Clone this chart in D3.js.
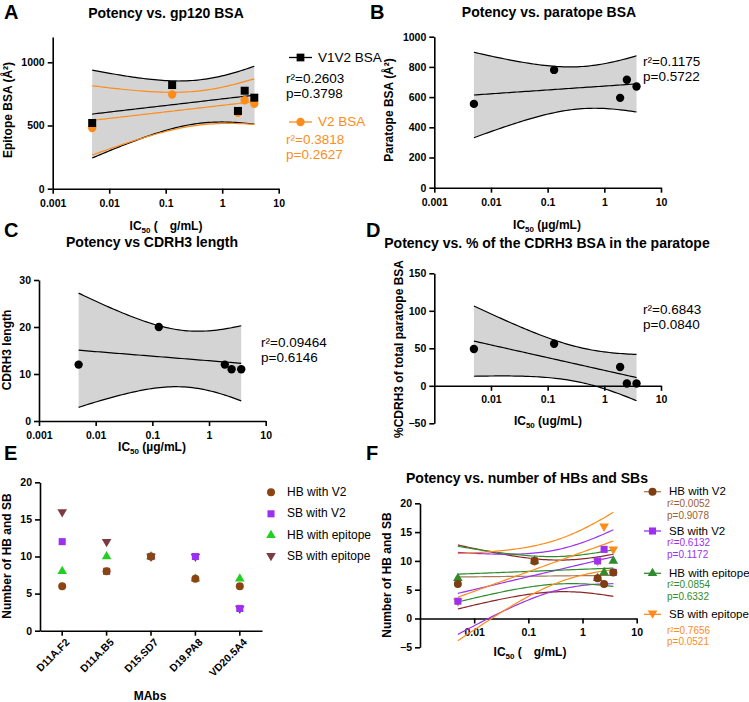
<!DOCTYPE html>
<html>
<head>
<meta charset="utf-8">
<script src="https://cdn.jsdelivr.net/npm/d3@7"></script>
<style>
  body { margin: 0; background: #fff; }
  text { font-family: "Liberation Sans", Arial, sans-serif; }
</style>
</head>
<body>
<svg id="fig" width="749" height="702"></svg>
<script>
// antibodies, in the order used by panel E
const mabs = ['D11A.F2', 'D11A.B5', 'D15.SD7', 'D19.PA8', 'VD20.5A4'];
const ic50 = [2.5, 3.7, 0.13, 1.9, 0.005];

const v1v2Bsa = [775, 720, 820, 615, 520];
const v2Bsa = [700, 672, 745, 600, 480];
const paratopeBsa = [715, 670, 780, 595, 555];
const cdrh3Length = [11, 11, 20, 12, 12];
const cdrh3Pct = [3, 3, 56, 25, 49];

const hbV2 = [6, 8, 10, 7, 6];
const sbV2 = [12, 8, 10, 10, 3];
const hbEpi = [8, 10, 10, 7, 7];
const sbEpi = [16, 12, 10, 10, 3];

const logTicks = [0.001, 0.01, 0.1, 1, 10];

const GRAY = '#d4d4d4';
const ORANGE = '#ff8c1a';
const BROWN = '#8b4513';
const PURPLE = '#9b30f0';

const svg = d3.select('#fig');

// least squares on log10(x) with 95% confidence band (n = 5, t = 3.182)
const fitLog = (xs, ys) => {
  const lx = xs.map(Math.log10);
  const n = lx.length;
  const mx = d3.mean(lx);
  const my = d3.mean(ys);
  const sxx = d3.sum(lx, (v) => (v - mx) ** 2);
  const sxy = d3.sum(lx, (v, i) => (v - mx) * (ys[i] - my));
  const slope = sxy / sxx;
  const icept = my - slope * mx;
  const sse = d3.sum(lx, (v, i) => (ys[i] - (icept + slope * v)) ** 2);
  const s = Math.sqrt(sse / (n - 2));
  const t = 3.182446;
  const lo = d3.min(lx);
  const hi = d3.max(lx);
  const pts = d3.range(0, 61).map((k) => lo + ((hi - lo) * k) / 60);
  return pts.map((u) => {
    const yhat = icept + slope * u;
    const h = t * s * Math.sqrt(1 / n + (u - mx) ** 2 / sxx);
    return { x: 10 ** u, y: yhat, lo: yhat - h, hi: yhat + h };
  });
};

const label = (x, y, txt, size, opts = {}) => svg.append('text')
  .attr('x', x).attr('y', y)
  .attr('font-size', size)
  .attr('font-weight', opts.bold ? 'bold' : 'normal')
  .attr('text-anchor', opts.anchor || 'start')
  .attr('dominant-baseline', 'middle')
  .attr('fill', opts.color || '#000')
  .text(txt);

// y is the text baseline here
const icLabel = (x, y, unit) => {
  const t = svg.append('text').attr('x', x).attr('y', y)
    .attr('text-anchor', 'middle').attr('font-size', 12).attr('font-weight', 'bold');
  t.append('tspan').text('IC');
  t.append('tspan').attr('font-size', 8).attr('dy', 3).text('50');
  t.append('tspan').attr('dy', -3).text(` (${unit})`);
};

const yLabel = (x, y, txt, size) => svg.append('text')
  .attr('transform', `translate(${x},${y}) rotate(-90)`)
  .attr('text-anchor', 'middle').attr('dominant-baseline', 'middle')
  .attr('font-size', size).attr('font-weight', 'bold').text(txt);

const styleAxis = (g) => {
  g.selectAll('path').attr('stroke-width', 1.6);
  g.selectAll('line').attr('stroke-width', 1.6);
  g.selectAll('text').attr('font-size', 10.5).attr('font-weight', 'bold')
    .attr('font-family', '"Liberation Sans", Arial, sans-serif');
};

const marker = (g, shape, x, y, color, size) => {
  const sym = { circle: d3.symbolCircle, square: d3.symbolSquare, triangle: d3.symbolTriangle, down: d3.symbolTriangle }[shape];
  g.append('path')
    .attr('d', d3.symbol().type(sym).size(size)())
    .attr('transform', `translate(${x},${y})${shape === 'down' ? ' rotate(180)' : ''}`)
    .attr('fill', color);
};

// a log-x scatter panel with regression lines
const logPanel = (p) => {
  const x = d3.scaleLog().domain([0.001, 10]).range(p.xr);
  const y = d3.scaleLinear().domain(p.yd).range(p.yr);
  const g = svg.append('g');
  const fits = p.series.map((s) => fitLog(ic50, s.values));

  if (p.shade) {
    fits.forEach((f) => {
      g.append('path').datum(f)
        .attr('d', d3.area().x((d) => x(d.x)).y0((d) => y(d.lo)).y1((d) => y(d.hi)))
        .attr('fill', GRAY);
    });
  }

  const xAxisY = p.xAxisAt0 ? y(0) : p.yr[0];
  const ax = g.append('g').attr('transform', `translate(0,${xAxisY})`)
    .call(d3.axisBottom(x).tickValues(p.xTicks).tickFormat((d) => `${d}`).tickSize(5).tickSizeOuter(0));
  ax.selectAll('text').attr('dy', p.xAxisAt0 ? '0.9em' : '0.95em');
  styleAxis(ax);
  const ay = g.append('g').attr('transform', `translate(${p.xr[0]},0)`)
    .call(d3.axisLeft(y).tickValues(p.yTicks).tickFormat(d3.format('d')).tickSize(5).tickSizeOuter(0));
  styleAxis(ay);

  fits.forEach((f, i) => {
    const s = p.series[i];
    const line = (key) => d3.line().x((d) => x(d.x)).y((d) => y(d[key]));
    g.append('path').datum(f).attr('d', line('lo')(f)).attr('fill', 'none')
      .attr('stroke', s.band || s.color).attr('stroke-width', 1.2);
    g.append('path').datum(f).attr('d', line('hi')(f)).attr('fill', 'none')
      .attr('stroke', s.band || s.color).attr('stroke-width', 1.2);
    g.append('path').datum(f).attr('d', line('y')(f)).attr('fill', 'none')
      .attr('stroke', s.fit || s.color).attr('stroke-width', 1.2);
  });

  // first series drawn on top
  p.series.slice().reverse().forEach((s) => {
    s.values.forEach((v, i) => marker(g, s.shape, x(ic50[i]), y(v), s.mark || s.color, s.size || 60));
  });
};

// ---- A
label(4, 14, 'A', 20, { bold: true });
label(166, 14, 'Potency vs. gp120 BSA', 14, { bold: true, anchor: 'middle' });
logPanel({
  xr: [52.7, 278.7], yd: [0, 1200], yr: [188.7, 37], yTicks: [0, 500, 1000], xTicks: logTicks, shade: true,
  series: [
    { values: v1v2Bsa, color: '#000', shape: 'square', size: 64 },
    { values: v2Bsa, color: ORANGE, shape: 'circle', size: 55 },
  ],
});
yLabel(9, 110, 'Epitope BSA (Å²)', 12);
icLabel(166, 230, '\u2003g/mL');
svg.append('line').attr('x1', 289).attr('x2', 312).attr('y1', 57.5).attr('y2', 57.5).attr('stroke', '#000').attr('stroke-width', 1.3);
marker(svg, 'square', 300.5, 57.5, '#000', 60);
label(318, 58, 'V1V2 BSA', 13.5);
label(286, 79, 'r²=0.2603', 13.5);
label(286, 94, 'p=0.3798', 13.5);
svg.append('line').attr('x1', 289).attr('x2', 312).attr('y1', 122).attr('y2', 122).attr('stroke', ORANGE).attr('stroke-width', 1.3);
marker(svg, 'circle', 300.5, 122, ORANGE, 55);
label(318, 122.5, 'V2 BSA', 13.5, { color: ORANGE });
label(286, 140, 'r²=0.3818', 13.5, { color: ORANGE });
label(286, 155, 'p=0.2627', 13.5, { color: ORANGE });

// ---- B
label(370, 14, 'B', 20, { bold: true });
label(549, 13, 'Potency vs. paratope BSA', 14, { bold: true, anchor: 'middle' });
logPanel({
  xr: [434.3, 661], yd: [0, 1000], yr: [187.7, 36.7], yTicks: d3.range(0, 1001, 200), xTicks: logTicks, shade: true,
  series: [{ values: paratopeBsa, color: '#000', shape: 'circle', size: 55 }],
});
yLabel(390, 110, 'Paratope BSA (Å²)', 12);
icLabel(547, 229, 'µg/mL');
label(643, 62, 'r²=0.1175', 13.5);
label(643, 77, 'p=0.5722', 13.5);

// ---- C
label(4, 232, 'C', 20, { bold: true });
label(152, 243, 'Potency vs CDRH3 length', 14, { bold: true, anchor: 'middle' });
logPanel({
  xr: [39, 265.7], yd: [0, 30], yr: [421, 280], yTicks: [0, 10, 20, 30], xTicks: logTicks, shade: true,
  series: [{ values: cdrh3Length, color: '#000', shape: 'circle', size: 55 }],
});
yLabel(8, 350, 'CDRH3 length', 12);
icLabel(152, 451, 'µg/mL');
label(261, 343, 'r²=0.09464', 13.5);
label(261, 358, 'p=0.6146', 13.5);

// ---- D
label(366, 232, 'D', 20, { bold: true });
label(547, 244, 'Potency vs. % of the CDRH3 BSA in the paratope', 14, { bold: true, anchor: 'middle' });
logPanel({
  xr: [434.3, 661], yd: [-50, 150], yr: [423.3, 273.3], yTicks: [-50, 0, 50, 100, 150], xTicks: logTicks.slice(1),
  shade: true, xAxisAt0: true,
  series: [{ values: cdrh3Pct, color: '#000', shape: 'circle', size: 55 }],
});
yLabel(400, 349, '%CDRH3 of total paratope BSA', 12);
icLabel(548, 425, 'ug/mL');
label(643, 310, 'r²=0.6843', 13.5);
label(643, 325, 'p=0.0840', 13.5);

// ---- E
label(4, 455, 'E', 20, { bold: true });
const eSeries = [
  { name: 'HB with V2', values: hbV2, color: BROWN, shape: 'circle', size: 50 },
  { name: 'SB with V2', values: sbV2, color: PURPLE, shape: 'square', size: 50 },
  { name: 'HB with epitope', values: hbEpi, color: '#22d022', shape: 'triangle', size: 40 },
  { name: 'SB with epitope', values: sbEpi, color: '#7b3a44', shape: 'down', size: 40 },
];
{
  const x = d3.scaleBand().domain(mabs).range([40, 262]);
  const y = d3.scaleLinear().domain([0, 20]).range([630.7, 482.3]);
  const g = svg.append('g');
  const ax = g.append('g').attr('transform', 'translate(0,630.7)')
    .call(d3.axisBottom(x).tickSize(5).tickSizeOuter(0));
  styleAxis(ax);
  ax.selectAll('text')
    .attr('text-anchor', 'end').attr('dx', '-0.1em').attr('dy', '0.6em')
    .attr('transform', 'rotate(-45)').attr('y', 8).attr('x', -2);
  const ay = g.append('g').attr('transform', 'translate(40,0)')
    .call(d3.axisLeft(y).tickValues([0, 5, 10, 15, 20]).tickSize(5).tickSizeOuter(0));
  styleAxis(ay);
  eSeries.slice().reverse().forEach((s) => {
    s.values.forEach((v, i) => marker(g, s.shape, x(mabs[i]) + x.bandwidth() / 2, y(v), s.color, s.size));
  });
  eSeries.forEach((s, i) => {
    const ly = 492.3 + i * 21.5;
    marker(svg, s.shape, 271, s.shape === 'down' ? ly - 1 : ly, s.color, s.size);
    label(287, ly + 0.5, s.name, 12);
  });
}
yLabel(8, 556, 'Number of HB and SB', 12);
label(150, 697, 'MAbs', 12, { bold: true, anchor: 'middle' });

// ---- F
label(366, 455, 'F', 20, { bold: true });
label(527, 479, 'Potency vs. number of HBs and SBs', 14, { bold: true, anchor: 'middle' });
const fSeries = [
  { name: 'HB with V2', values: hbV2, color: BROWN, mark: '#7e3d12', fit: '#a87a55', band: '#8b2525', shape: 'circle', size: 50, text: '#9c6030', r2: 'r²=0.0052', p: 'p=0.9078' },
  { name: 'SB with V2', values: sbV2, color: PURPLE, shape: 'square', size: 50, text: PURPLE, r2: 'r²=0.6132', p: 'p=0.1172' },
  { name: 'HB with epitope', values: hbEpi, color: '#2e8b2e', shape: 'triangle', size: 40, text: '#2e8b2e', r2: 'r²=0.0854', p: 'p=0.6332' },
  { name: 'SB with epitope', values: sbEpi, color: ORANGE, shape: 'down', size: 40, text: ORANGE, r2: 'r²=0.7656', p: 'p=0.0521' },
];
logPanel({
  xr: [420, 636.7], yd: [-5, 20], yr: [647.3, 503.3], yTicks: [-5, 0, 5, 10, 15, 20], xTicks: logTicks.slice(1),
  shade: false, xAxisAt0: true, series: fSeries,
});
yLabel(388, 575, 'Number of HB and SB', 12);
icLabel(530, 656, '\u2003g/mL');
[491.7, 531, 573.3, 614.3].forEach((ly, i) => {
  const s = fSeries[i];
  svg.append('line').attr('x1', 644).attr('x2', 661).attr('y1', ly).attr('y2', ly)
    .attr('stroke', s.fit || s.color).attr('stroke-width', 1.3);
  marker(svg, s.shape, 652.5, s.shape === 'down' ? ly - 1 : ly, s.mark || s.color, s.size);
  label(669, ly + 0.5, s.name, 11.5);
  label(667, ly + (i === 3 ? 17.5 : 12.5), s.r2, 10, { color: s.text });
  label(667, ly + (i === 3 ? 28.5 : 24.5), s.p, 10, { color: s.text });
});
</script>
</body>
</html>
